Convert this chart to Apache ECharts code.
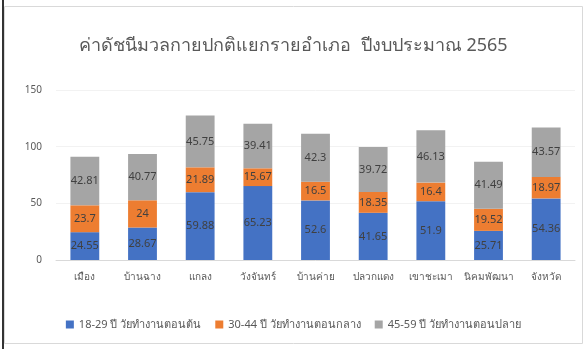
<!DOCTYPE html>
<html>
<head>
<meta charset="utf-8">
<script src="https://cdn.jsdelivr.net/npm/echarts@6/dist/echarts.min.js"></script>
<style>
  html, body { margin: 0; padding: 0; background: #fff; }
  #content { width: 587px; height: 349px; }
</style>
</head>
<body>
<div id="content"></div>
<script>
// ข้อมูลแต่ละอำเภอ
var districts = ["เมือง", "บ้านฉาง", "แกลง", "วังจันทร์", "บ้านค่าย", "ปลวกแดง", "เขาชะเมา", "นิคมพัฒนา", "จังหวัด"];
var age18to29 = [24.55, 28.67, 59.88, 65.23, 52.6, 41.65, 51.9, 25.71, 54.36];
var age30to44 = [23.70, 24.0, 21.89, 15.67, 16.5, 18.35, 16.4, 19.52, 18.97];
var age45to59 = [42.81, 40.77, 45.75, 39.41, 42.3, 39.72, 46.13, 41.49, 43.57];
var seriesNames = ["18-29 ปี วัยทำงานตอนต้น", "30-44 ปี วัยทำงานตอนกลาง", "45-59 ปี วัยทำงานตอนปลาย"];
var yTicks = { min: 0, max: 150, interval: 50 };

var colors = ["#4472C4", "#ED7D31", "#A5A5A5"];
var font = "'Noto Sans', 'DejaVu Sans', sans-serif";

function makeSeries(name, values) {
    return {
        name: name,
        type: "bar",
        stack: "total",
        barWidth: "50%",
        data: values,
        label: {
            show: true,
            position: "inside",
            color: "#404040",
            fontSize: 11,
            fontFamily: font,
            formatter: function(p) { return p.value; }
        }
    };
}

var myChart = echarts.init(document.getElementById("content"));
myChart.setOption({
    animation: false,
    color: colors,
    textStyle: { fontFamily: font },
    title: {
        text: "ค่าดัชนีมวลกายปกติแยกรายอำเภอ  ปีงบประมาณ 2565",
        left: "center",
        top: 32,
        textStyle: { fontSize: 18, fontWeight: "normal", color: "#595959", fontFamily: font }
    },
    graphic: [{
        type: "rect",
        shape: { x: 4.5, y: 6.5, width: 578, height: 337 },
        style: { fill: null, stroke: "#d9d9d9", lineWidth: 1 },
        silent: true
    }, {
        type: "line",
        shape: { x1: 3, y1: 0, x2: 3, y2: 349 },
        style: { stroke: "#333", lineWidth: 2 },
        silent: true
    }],
    legend: {
        bottom: 14,
        left: "center",
        itemWidth: 8,
        itemHeight: 8,
        itemGap: 14,
        icon: "rect",
        textStyle: { fontSize: 11, color: "#595959", fontFamily: font },
        data: seriesNames
    },
    grid: { left: 56, right: 12, top: 90, bottom: 89 },
    xAxis: {
        type: "category",
        data: districts,
        axisTick: { show: false },
        axisLine: { lineStyle: { color: "#d9d9d9" } },
        axisLabel: { color: "#595959", fontSize: 10, margin: 12, interval: 0 }
    },
    yAxis: {
        type: "value",
        min: yTicks.min,
        max: yTicks.max,
        interval: yTicks.interval,
        axisLabel: { color: "#595959", fontSize: 10, margin: 14 },
        splitLine: { lineStyle: { color: "#f2f2f2" } }
    },
    series: [
        makeSeries(seriesNames[0], age18to29),
        makeSeries(seriesNames[1], age30to44),
        makeSeries(seriesNames[2], age45to59)
    ]
});
</script>
</body>
</html>
